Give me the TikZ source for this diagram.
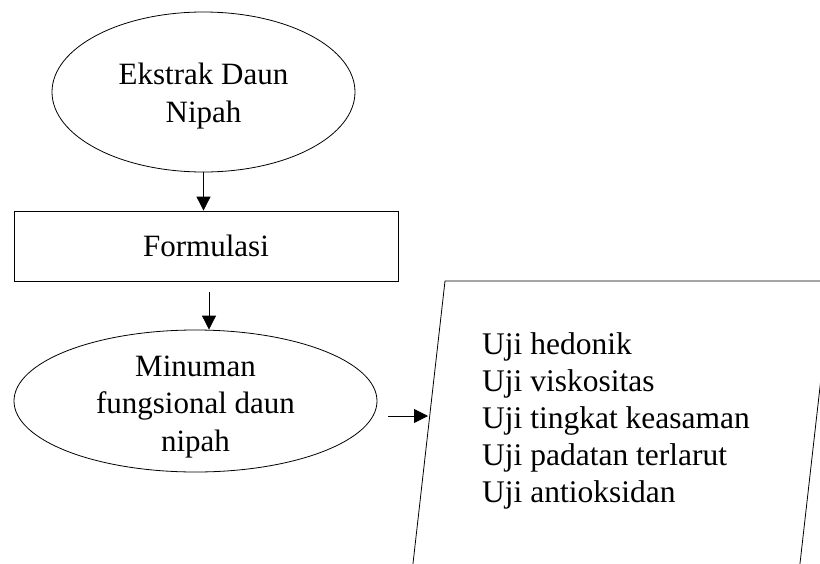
\documentclass[tikz,border=0pt]{standalone}
\usepackage{fontspec}
\setmainfont{Liberation Serif}
\usetikzlibrary{shapes.geometric,arrows.meta}

\tikzset{
  flowellipse/.style={draw, ellipse, inner sep=0pt, line width=0.8pt},
  flowbox/.style={draw, rectangle, inner sep=0pt, line width=0.8pt},
  flowtext/.style={inner sep=0pt, align=center},
  flowarrow/.style={line width=0.8pt, -{Triangle[length=14pt,width=14pt]}}
}

\begin{document}
\begin{tikzpicture}[x=1pt,y=-1pt,font=\fontsize{31}{37.5}\selectfont]
\useasboundingbox (0,0) rectangle (820,563);

\node[flowellipse, minimum width=303pt, minimum height=160pt] (ekstrak) at (203.5,92) {};
\node[flowtext] (ekstraktext) at ([yshift=-4pt]ekstrak.center) {Ekstrak Daun\\Nipah};
\node[flowbox, minimum width=384pt, minimum height=70pt] (formulasi) at (206,246) {Formulasi};
\node[flowellipse, minimum width=363pt, minimum height=142pt] (minuman) at (195.5,401) {};
\node[flowtext] (minumantext) at ([yshift=-6pt]minuman.center) {Minuman\\fungsional daun\\nipah};

% parallelogram for the tests, cut by the page edge
\begin{scope}
\clip (0,0) rectangle (820,563);
\draw[line width=0.8pt] (445,281) -- (832,281) -- (780,740) -- (393,740) -- cycle;
\end{scope}
\node[anchor=west, inner sep=0pt, align=left, font=\fontsize{31.5}{37}\selectfont] (uji) at (482,421) {Uji hedonik\\Uji viskositas\\Uji tingkat keasaman\\Uji padatan terlarut\\Uji antioksidan};

\coordinate (formulasiout) at (209,292);
\coordinate (minumanout) at (388,416);
\coordinate (ujiin) at (428,416);

\draw[flowarrow] (ekstrak.south) -- (formulasi.north -| ekstrak.south);
\draw[flowarrow] (formulasiout) -- (formulasiout |- minuman.north);
\draw[flowarrow] (minumanout) -- (ujiin);
\end{tikzpicture}
\end{document}
